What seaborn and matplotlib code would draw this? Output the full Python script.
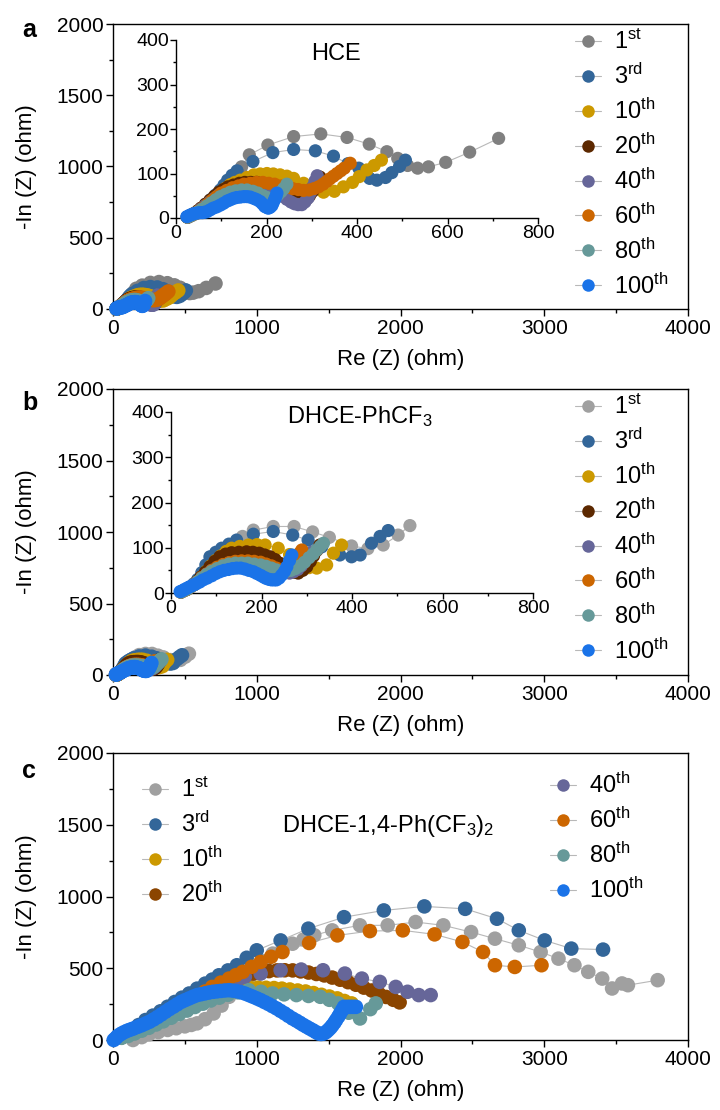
import matplotlib
matplotlib.use("Agg")
import matplotlib.pyplot as plt
from matplotlib.lines import Line2D
from matplotlib.ticker import MultipleLocator
import pandas as pd
import seaborn as sns

# ---------------- data ----------------
cycles = ["1st", "3rd", "10th", "20th", "40th", "60th", "80th", "100th"]
cycle_labels = [r"$\mathregular{1^{st}}$", r"$\mathregular{3^{rd}}$",
                r"$\mathregular{10^{th}}$", r"$\mathregular{20^{th}}$",
                r"$\mathregular{40^{th}}$", r"$\mathregular{60^{th}}$",
                r"$\mathregular{80^{th}}$", r"$\mathregular{100^{th}}$"]

# HCE
hce_re = {
    "1st": [28, 36, 45, 55, 65, 75, 85, 95, 105, 115, 125, 135, 145, 162, 203, 260, 320, 378, 427, 466, 490, 512,
            534, 558, 596, 649, 713],
    "3rd": [26, 33, 40, 48, 58, 68, 78, 88, 98, 106, 114, 124, 135, 170, 214, 260, 308, 348, 380, 404, 428, 444,
            463, 477, 494, 507],
    "10th": [25, 32, 40, 48, 58, 68, 78, 88, 100, 110, 120, 130, 142, 157, 172, 186, 201, 215, 230, 245, 260, 282,
             304, 326, 350, 370, 390, 405, 422, 438, 454],
    "20th": [25, 32, 40, 48, 55, 65, 75, 85, 95, 105, 115, 127, 140, 152, 165, 178, 190, 203, 215, 228, 240, 251,
             262, 271, 280, 288, 295, 302, 308, 313, 318],
    "40th": [25, 32, 40, 48, 55, 65, 75, 85, 95, 106, 118, 130, 142, 155, 168, 182, 195, 208, 222, 234, 245, 254,
             262, 270, 278, 285, 292, 297, 302, 307, 312],
    "60th": [25, 33, 42, 51, 60, 70, 80, 90, 100, 112, 125, 138, 150, 164, 178, 192, 205, 218, 232, 245, 258, 270,
             282, 294, 305, 315, 325, 333, 340, 348, 356, 364, 372, 385],
    "80th": [25, 32, 40, 49, 58, 68, 78, 88, 98, 109, 120, 132, 145, 157, 170, 181, 192, 201, 210, 218, 225, 232,
             238, 245],
    "100th": [24, 30, 35, 40, 46, 52, 58, 63, 68, 75, 82, 90, 98, 105, 113, 120, 127, 134, 142, 150, 157, 164, 172,
              179, 186, 191, 196, 200, 204, 208, 212, 215, 218, 221, 223],
}
hce_im = {
    "1st": [2, 6, 10, 16, 22, 30, 38, 48, 58, 71, 85, 100, 115, 142, 164, 183, 189, 181, 166, 149, 134, 118,
            112, 115, 125, 148, 179],
    "3rd": [2, 6, 10, 15, 22, 32, 42, 52, 63, 74, 85, 96, 106, 127, 147, 154, 151, 139, 122, 112, 89, 85,
            91, 102, 116, 130],
    "10th": [2, 5, 9, 14, 20, 28, 36, 46, 58, 67, 75, 80, 85, 91, 97, 99, 100, 99, 97, 94, 89, 78,
             64, 58, 60, 70, 80, 93, 108, 118, 130],
    "20th": [2, 6, 10, 16, 22, 31, 40, 49, 58, 64, 70, 74, 78, 80, 80, 80, 78, 75, 72, 67, 60, 52,
             45, 40, 38, 42, 50, 60, 70, 81, 92],
    "40th": [2, 5, 9, 14, 20, 28, 36, 44, 52, 57, 62, 65, 68, 69, 70, 68, 66, 62, 56, 49, 42, 36,
             32, 30, 30, 36, 45, 57, 70, 83, 95],
    "60th": [2, 6, 10, 16, 22, 31, 40, 48, 56, 62, 68, 72, 76, 78, 80, 80, 78, 76, 72, 69, 66, 64,
             62, 63, 66, 70, 76, 82, 88, 94, 100, 106, 112, 123],
    "80th": [2, 5, 9, 14, 20, 27, 34, 41, 48, 53, 58, 61, 63, 63, 60, 56, 50, 46, 42, 45, 52, 59,
             66, 76],
    "100th": [3, 6, 8, 10, 11, 12, 12, 13, 14, 18, 22, 25, 29, 33, 38, 41, 44, 46, 47, 48, 48, 47, 44,
              41, 37, 32, 26, 24, 22, 24, 28, 35, 42, 49, 56],
}

# DHCE-PhCF3
phcf3_re = {
    "1st": [22, 28, 35, 42, 50, 59, 68, 78, 88, 99, 110, 122, 135, 158, 182, 226, 272, 313, 350, 399, 435, 469,
            502, 528],
    "3rd": [22, 28, 35, 42, 50, 59, 68, 77, 86, 99, 112, 128, 145, 182, 226, 269, 303, 333, 373, 399, 418, 443,
            462, 480],
    "10th": [22, 28, 35, 42, 50, 59, 68, 78, 88, 99, 110, 122, 134, 152, 171, 190, 208, 237, 262, 285, 305, 322,
             344, 359, 377],
    "20th": [22, 28, 35, 42, 50, 58, 66, 76, 86, 97, 108, 121, 134, 150, 167, 181, 195, 207, 219, 230, 240, 251,
             262, 272, 281, 291, 300, 308, 315, 322, 329],
    "40th": [22, 28, 35, 42, 50, 59, 68, 79, 90, 102, 115, 128, 142, 156, 170, 184, 198, 210, 222, 233, 244, 253,
             262, 271, 280, 288, 296, 303, 310],
    "60th": [22, 28, 35, 42, 50, 59, 68, 79, 90, 102, 115, 128, 142, 156, 170, 184, 198, 210, 222, 233, 244, 253,
             262, 270, 278, 284, 289],
    "80th": [22, 28, 35, 42, 50, 59, 68, 79, 90, 102, 115, 128, 142, 156, 170, 184, 198, 210, 222, 233, 244, 255,
             265, 275, 285, 295, 305, 314, 322, 330, 337],
    "100th": [20, 25, 30, 36, 42, 48, 55, 63, 71, 80, 90, 99, 108, 117, 127, 136, 145, 154, 163, 172, 182, 190,
              198, 205, 211, 217, 222, 228, 233, 239, 245, 251, 256, 262, 267],
}
phcf3_im = {
    "1st": [2, 5, 8, 13, 18, 26, 34, 44, 55, 67, 80, 92, 105, 125, 139, 147, 147, 135, 123, 104, 98, 106,
            128, 149],
    "3rd": [2, 5, 8, 13, 20, 30, 45, 62, 80, 90, 99, 108, 117, 130, 136, 128, 117, 102, 84, 80, 84, 110,
            125, 138],
    "10th": [2, 5, 8, 13, 18, 26, 36, 48, 60, 72, 82, 92, 99, 103, 106, 107, 106, 99, 85, 68, 56, 55,
             62, 88, 106],
    "20th": [2, 5, 8, 13, 18, 26, 35, 46, 58, 70, 80, 86, 89, 90, 91, 90, 88, 84, 80, 74, 66, 58,
             50, 46, 44, 50, 58, 70, 82, 94, 106],
    "40th": [2, 5, 8, 13, 18, 25, 34, 42, 50, 56, 62, 66, 68, 69, 69, 68, 66, 62, 58, 53, 48, 46,
             44, 47, 52, 60, 70, 80, 90],
    "60th": [2, 5, 8, 13, 18, 25, 34, 42, 50, 57, 63, 67, 70, 71, 71, 70, 68, 64, 60, 55, 50, 52,
             60, 68, 80, 88, 95],
    "80th": [2, 5, 8, 13, 18, 25, 33, 41, 48, 54, 60, 64, 66, 66, 66, 64, 62, 59, 55, 51, 47, 48,
             50, 54, 60, 68, 78, 86, 95, 103, 110],
    "100th": [3, 5, 8, 11, 14, 17, 20, 24, 29, 33, 38, 43, 47, 50, 52, 54, 55, 55, 53, 50, 47, 43,
              39, 35, 32, 30, 29, 29, 29, 33, 40, 48, 58, 72, 84],
}

# DHCE-1,4-Ph(CF3)2
ph2cf3_re = {
    "1st": [139, 200, 250, 315, 380, 440, 500, 545, 585, 640, 700, 755, 807, 860, 910, 960, 1010, 1060, 1111,
            1180, 1249, 1325, 1400, 1525, 1718, 1911, 2105, 2298, 2491, 2657, 2823, 2975, 3099, 3210, 3306,
            3403, 3472, 3541, 3582, 3789],
    "3rd": [60, 95, 130, 178, 226, 278, 330, 380, 430, 480, 530, 585, 641, 690, 737, 800, 862, 930, 1000, 1166,
            1359, 1607, 1884, 2166, 2450, 2671, 2823, 3003, 3188, 3409],
    "10th": [60, 100, 140, 190, 240, 295, 350, 405, 460, 515, 570, 625, 680, 735, 790, 845, 900, 955, 1010,
             1065, 1120, 1175, 1230, 1285, 1340, 1395, 1450, 1505, 1560, 1610, 1660],
    "20th": [60, 105, 150, 205, 260, 315, 370, 425, 480, 535, 590, 645, 700, 755, 810, 865, 920, 975, 1030,
             1085, 1140, 1195, 1250, 1305, 1360, 1415, 1470, 1525, 1580, 1635, 1690, 1745, 1800, 1850, 1900,
             1950, 1994],
    "40th": [60, 110, 160, 215, 270, 325, 380, 435, 490, 545, 600, 655, 710, 765, 820, 870, 917, 1027, 1166,
             1309, 1461, 1613, 1731, 1856, 1967, 2049, 2127, 2210],
    "60th": [60, 110, 160, 215, 270, 325, 380, 435, 490, 540, 590, 640, 690, 750, 807, 855, 903, 965, 1027,
             1100, 1179, 1364, 1561, 1787, 2016, 2237, 2431, 2574, 2657, 2795, 2981],
    "80th": [60, 105, 150, 200, 250, 300, 350, 405, 460, 515, 570, 625, 680, 740, 800, 870, 945, 1030, 1110,
             1190, 1276, 1360, 1442, 1505, 1566, 1640, 1718, 1790, 1828],
    "100th": [5, 18, 30, 45, 61, 80, 100, 122, 144, 172, 200, 227, 254, 282, 310, 337, 365, 392, 420, 447, 475,
              502, 530, 557, 585, 612, 640, 668, 696, 723, 750, 778, 807, 835, 862, 890, 917, 945, 972, 1000,
              1027, 1055, 1083, 1110, 1138, 1165, 1193, 1220, 1248, 1275, 1300, 1322, 1345, 1368, 1390, 1410,
              1428, 1447, 1465, 1482, 1497, 1512, 1525, 1540, 1552, 1567, 1580, 1594, 1607, 1630, 1650, 1670,
              1690],
}
ph2cf3_im = {
    "1st": [0, 20, 40, 55, 70, 82, 95, 105, 116, 145, 185, 240, 301, 350, 400, 450, 500, 550, 602, 638, 671,
            700, 730, 764, 799, 799, 822, 799, 752, 706, 660, 613, 567, 521, 475, 428, 359, 394, 382, 417],
    "3rd": [30, 48, 70, 104, 139, 170, 200, 232, 265, 295, 324, 358, 393, 421, 451, 485, 521, 573, 625, 694,
            776, 856, 903, 931, 914, 845, 764, 694, 637, 630],
    "10th": [20, 34, 50, 75, 100, 132, 165, 195, 225, 253, 280, 300, 320, 334, 345, 353, 360, 363, 365, 364,
             362, 358, 352, 345, 338, 327, 315, 303, 290, 272, 255],
    "20th": [20, 36, 55, 82, 110, 142, 175, 208, 240, 270, 300, 330, 360, 385, 410, 430, 450, 463, 475, 480,
             485, 486, 485, 478, 470, 460, 450, 435, 420, 403, 385, 365, 345, 323, 300, 280, 262],
    "40th": [20, 38, 60, 88, 115, 148, 180, 212, 245, 272, 300, 325, 350, 375, 400, 420, 440, 463, 486, 491,
             486, 463, 428, 405, 370, 336, 313, 313],
    "60th": [20, 38, 60, 88, 115, 148, 180, 212, 245, 275, 305, 338, 370, 400, 428, 452, 475, 510, 544, 580,
             613, 676, 729, 759, 764, 736, 683, 613, 521, 509, 521],
    "80th": [15, 28, 45, 65, 85, 108, 130, 155, 180, 205, 230, 253, 275, 295, 315, 332, 347, 336, 324, 318,
             313, 307, 301, 280, 255, 190, 150, 215, 255],
    "100th": [0, 12, 25, 36, 46, 56, 65, 73, 81, 92, 103, 115, 127, 143, 160, 178, 197, 215, 232, 249, 266,
              278, 290, 302, 313, 319, 325, 331, 336, 339, 342, 345, 347, 344, 340, 333, 324, 313, 302, 290,
              278, 264, 250, 235, 220, 203, 186, 168, 150, 135, 120, 106, 93, 80, 68, 56, 46, 42, 45, 55, 69,
              84, 100, 120, 139, 162, 185, 208, 231, 231, 231, 231, 231],
}

colors_hce = ["#808080", "#336699", "#cc9900", "#5c2800", "#666699", "#cc6600", "#669999", "#1a73e8"]
colors_phcf3 = ["#a0a0a0", "#336699", "#cc9900", "#5c2800", "#666699", "#cc6600", "#669999", "#1a73e8"]
colors_ph2cf3 = ["#a0a0a0", "#336699", "#cc9900", "#8b4500", "#666699", "#cc6600", "#669999", "#1a73e8"]
line_color = "#b8b8b8"


def long_frame(re_d, im_d):
    rows = []
    for c in cycles:
        for x, y in zip(re_d[c], im_d[c]):
            rows.append((c, x, y))
    return pd.DataFrame(rows, columns=["cycle", "re", "im"])


# ---------------- style ----------------
sns.set_theme(style="ticks")
plt.rcParams["font.family"] = ["Liberation Sans", "DejaVu Sans"]
plt.rcParams["mathtext.fontset"] = "custom"
plt.rcParams["mathtext.rm"] = "Liberation Sans"
plt.rcParams["mathtext.it"] = "Liberation Sans:italic"
plt.rcParams["mathtext.bf"] = "Liberation Sans:bold"
plt.rcParams["axes.linewidth"] = 1.0
for key in ("text.color", "axes.labelcolor", "xtick.color", "ytick.color", "axes.edgecolor"):
    plt.rcParams[key] = "black"

TICK_FS = 15
LABEL_FS = 16
LEG_FS = 17
INSET_FS = 14
TITLE_FS = 17

W, H = 720, 1110
fig = plt.figure(figsize=(W / 100, H / 100), dpi=100)


def px_rect(left, top, right, bottom):
    return [left / W, 1 - bottom / H, (right - left) / W, (bottom - top) / H]


def draw_series(ax, df, palette, size):
    sns.lineplot(data=df, x="re", y="im", units="cycle", estimator=None, sort=False,
                 color=line_color, lw=0.8, ax=ax, legend=False, zorder=2)
    sns.scatterplot(data=df, x="re", y="im", hue="cycle", hue_order=cycles, palette=palette,
                    s=size, linewidth=0, alpha=1, ax=ax, legend=False, clip_on=False, zorder=3)


def style_main(ax):
    ax.set_xlim(0, 4000)
    ax.set_ylim(0, 2000)
    ax.xaxis.set_major_locator(MultipleLocator(1000))
    ax.xaxis.set_minor_locator(MultipleLocator(500))
    ax.yaxis.set_major_locator(MultipleLocator(500))
    ax.yaxis.set_minor_locator(MultipleLocator(250))
    ax.tick_params(which="major", direction="out", length=5, width=1, labelsize=TICK_FS, pad=2)
    ax.tick_params(which="minor", direction="out", length=3, width=1)
    for s in ax.spines.values():
        s.set_visible(True)
        s.set_linewidth(1.0)
        s.set_color("black")
    ax.set_xlabel("Re (Z) (ohm)", fontsize=LABEL_FS, labelpad=8)
    ax.set_ylabel("-In (Z) (ohm)", fontsize=LABEL_FS)
    ax.yaxis.set_label_coords(-0.132, 0.5)


def style_inset(ax):
    ax.set_xlim(0, 800)
    ax.set_ylim(0, 400)
    ax.xaxis.set_major_locator(MultipleLocator(200))
    ax.xaxis.set_minor_locator(MultipleLocator(100))
    ax.yaxis.set_major_locator(MultipleLocator(100))
    ax.yaxis.set_minor_locator(MultipleLocator(50))
    ax.tick_params(which="major", direction="out", length=4, width=1, labelsize=INSET_FS, pad=1)
    ax.tick_params(which="minor", direction="out", length=2.5, width=1)
    ax.spines["top"].set_visible(False)
    ax.spines["right"].set_visible(False)
    for s in ("left", "bottom"):
        ax.spines[s].set_linewidth(1.0)
        ax.spines[s].set_color("black")
    ax.set_xlabel("")
    ax.set_ylabel("")
    ax.patch.set_alpha(0)


def add_legend(ax, palette, idx, left_px, top_px):
    handles = [Line2D([0], [0], color=line_color, lw=0.8, marker="o", markersize=9,
                      markerfacecolor=palette[i], markeredgecolor="none") for i in idx]
    labels = [cycle_labels[i] for i in idx]
    leg = ax.legend(handles, labels, loc="upper left",
                    bbox_to_anchor=(left_px / W, 1 - top_px / H), bbox_transform=fig.transFigure,
                    frameon=False, fontsize=LEG_FS, borderpad=0, borderaxespad=0,
                    handlelength=1.1, handletextpad=0.55, labelspacing=0.41)
    return leg


panels = [
    ("a", long_frame(hce_re, hce_im), colors_hce, (113, 24, 688, 309), (176, 40, 538, 218), "HCE"),
    ("b", long_frame(phcf3_re, phcf3_im), colors_phcf3, (113, 389, 688, 675), (171, 412, 533, 593),
     r"DHCE-PhCF$\mathregular{_3}$"),
    ("c", long_frame(ph2cf3_re, ph2cf3_im), colors_ph2cf3, (113, 753, 688, 1040), None,
     r"DHCE-1,4-Ph(CF$\mathregular{_3}$)$\mathregular{_2}$"),
]

letter_base = {"a": 37, "b": 410, "c": 778}

for letter, df, pal, main_box, inset_box, name in panels:
    ax = fig.add_axes(px_rect(*main_box))
    draw_series(ax, df, pal, 110)
    style_main(ax)
    fig.text(22 / W, 1 - letter_base[letter] / H, letter, fontsize=18, fontweight="bold",
             ha="left", va="baseline")
    if inset_box is not None:
        axi = fig.add_axes(px_rect(*inset_box))
        draw_series(axi, df, pal, 90)
        style_inset(axi)
        add_legend(ax, pal, range(8), 575, 30 if letter == "a" else 395)
        base = 60 if letter == "a" else 423
        cx = 336 if letter == "a" else 360
        fig.text(cx / W, 1 - base / H, name, fontsize=TITLE_FS, ha="center", va="baseline")
    else:
        leg1 = add_legend(ax, pal, range(4), 142, 778)
        ax.add_artist(leg1)
        add_legend(ax, pal, range(4, 8), 550, 773)
        fig.text(388 / W, 1 - 832 / H, name, fontsize=TITLE_FS, ha="center", va="baseline")

fig.savefig("out.png", dpi=100)
